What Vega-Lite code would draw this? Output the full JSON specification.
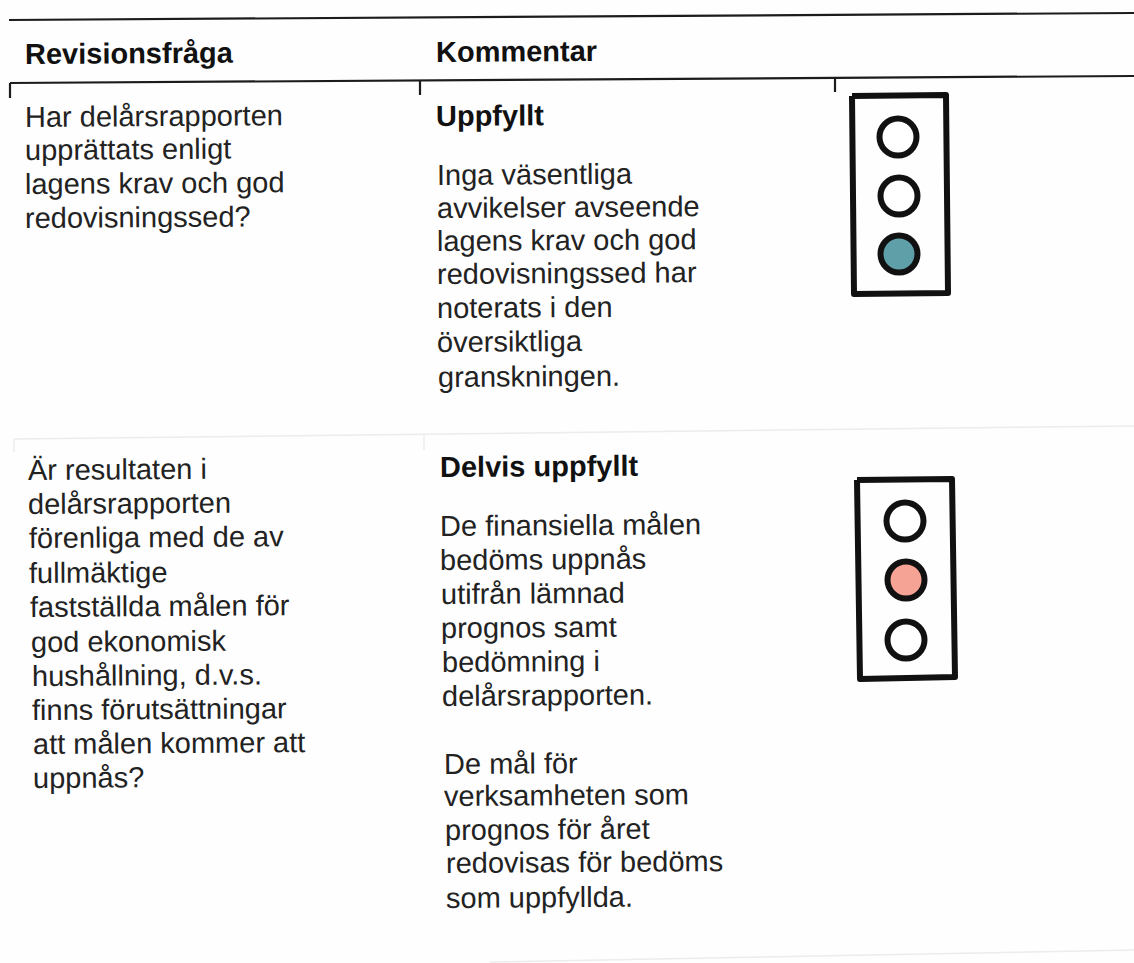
{"$schema":"https://vega.github.io/schema/vega-lite/v6.json","width":1134,"height":963,"padding":0,"autosize":{"type":"none"},"background":"#fefefe","config":{"view":{"stroke":null}},
"datasets":{
"dark":[{"id":"a","x":9,"y":20},{"id":"a","x":1134,"y":13},{"id":"b","x":10,"y":83},{"id":"b","x":1134,"y":76},{"id":"c","x":10,"y":83},{"id":"c","x":10,"y":98},{"id":"d","x":420,"y":81},{"id":"d","x":420,"y":95},{"id":"e","x":835,"y":78},{"id":"e","x":835,"y":92}],
"faint":[{"id":"f","x":14,"y":439},{"id":"f","x":1134,"y":426},{"id":"g","x":490,"y":962},{"id":"g","x":1134,"y":950},{"id":"h","x":14,"y":439},{"id":"h","x":14,"y":452},{"id":"i","x":424,"y":435},{"id":"i","x":424,"y":450}],
"frames":[{"id":"A","o":1,"x":852,"y":96},{"id":"A","o":2,"x":946,"y":95},{"id":"A","o":3,"x":948,"y":293},{"id":"A","o":4,"x":854,"y":294},{"id":"A","o":5,"x":852,"y":96},{"id":"B","o":1,"x":857,"y":480},{"id":"B","o":2,"x":952,"y":479},{"id":"B","o":3,"x":955,"y":677},{"id":"B","o":4,"x":860,"y":679},{"id":"B","o":5,"x":857,"y":480}],
"lights":[{"x":898,"y":137,"state":"off"},{"x":899,"y":196,"state":"off"},{"x":899,"y":254,"state":"green"},{"x":905,"y":521,"state":"off"},{"x":906,"y":580,"state":"yellow"},{"x":906,"y":640,"state":"off"}],
"bold":[{"x":25,"y":64,"t":"Revisionsfråga"},{"x":436,"y":62,"t":"Kommentar"},{"x":436,"y":126,"t":"Uppfyllt"},{"x":440,"y":477,"t":"Delvis uppfyllt"}],
"body":[{"x":25,"y":127,"t":"Har delårsrapporten"},{"x":25,"y":160,"t":"upprättats enligt"},{"x":25,"y":194,"t":"lagens krav och god"},{"x":25,"y":228,"t":"redovisningssed?"},
{"x":437,"y":185,"t":"Inga väsentliga"},{"x":437,"y":218,"t":"avvikelser avseende"},{"x":437,"y":251,"t":"lagens krav och god"},{"x":437,"y":284,"t":"redovisningssed har"},{"x":437,"y":318,"t":"noterats i den"},{"x":437,"y":352,"t":"översiktliga"},{"x":438,"y":387,"t":"granskningen."},
{"x":28,"y":480,"t":"Är resultaten i"},{"x":28,"y":514,"t":"delårsrapporten"},{"x":29,"y":548,"t":"förenliga med de av"},{"x":29,"y":583,"t":"fullmäktige"},{"x":30,"y":617,"t":"fastställda målen för"},{"x":31,"y":652,"t":"god ekonomisk"},{"x":32,"y":686,"t":"hushållning, d.v.s."},{"x":32,"y":720,"t":"finns förutsättningar"},{"x":33,"y":754,"t":"att målen kommer att"},{"x":33,"y":788,"t":"uppnås?"},
{"x":440,"y":536,"t":"De finansiella målen"},{"x":440,"y":570,"t":"bedöms uppnås"},{"x":441,"y":604,"t":"utifrån lämnad"},{"x":441,"y":638,"t":"prognos samt"},{"x":442,"y":672,"t":"bedömning i"},{"x":442,"y":706,"t":"delårsrapporten."},{"x":444,"y":774,"t":"De mål för"},{"x":444,"y":806,"t":"verksamheten som"},{"x":445,"y":840,"t":"prognos för året"},{"x":446,"y":873,"t":"redovisas för bedöms"},{"x":446,"y":908,"t":"som uppfyllda."}]
},
"encoding":{"x":{"field":"x","type":"quantitative","scale":{"domain":[0,1134],"nice":false,"zero":false},"axis":null},"y":{"field":"y","type":"quantitative","scale":{"domain":[963,0],"nice":false,"zero":false},"axis":null}},
"layer":[
{"data":{"name":"faint"},"mark":{"type":"line","stroke":"#ececec","strokeWidth":1.5},"encoding":{"detail":{"field":"id"}}},
{"data":{"name":"dark"},"mark":{"type":"line","stroke":"#1c1c1c","strokeWidth":2.2},"encoding":{"detail":{"field":"id"}}},
{"data":{"name":"frames"},"mark":{"type":"line","stroke":"#111111","strokeWidth":6,"strokeJoin":"round"},"encoding":{"detail":{"field":"id"},"order":{"field":"o"}}},
{"data":{"name":"lights"},"mark":{"type":"point","shape":"circle","filled":false,"stroke":"#111111","strokeWidth":6,"size":1369,"opacity":1},"encoding":{"fill":{"field":"state","type":"nominal","scale":{"domain":["off","green","yellow"],"range":["#ffffff","#5f9fa8","#f5a394"]},"legend":null}}},
{"data":{"name":"body"},"mark":{"type":"text","align":"left","baseline":"alphabetic","font":"Liberation Sans","fontSize":29,"angle":359.6,"fill":"#222222"},"encoding":{"text":{"field":"t"}}},
{"data":{"name":"bold"},"mark":{"type":"text","align":"left","baseline":"alphabetic","font":"Liberation Sans","fontWeight":"bold","fontSize":29,"angle":359.6,"fill":"#111111"},"encoding":{"text":{"field":"t"}}}
]}
